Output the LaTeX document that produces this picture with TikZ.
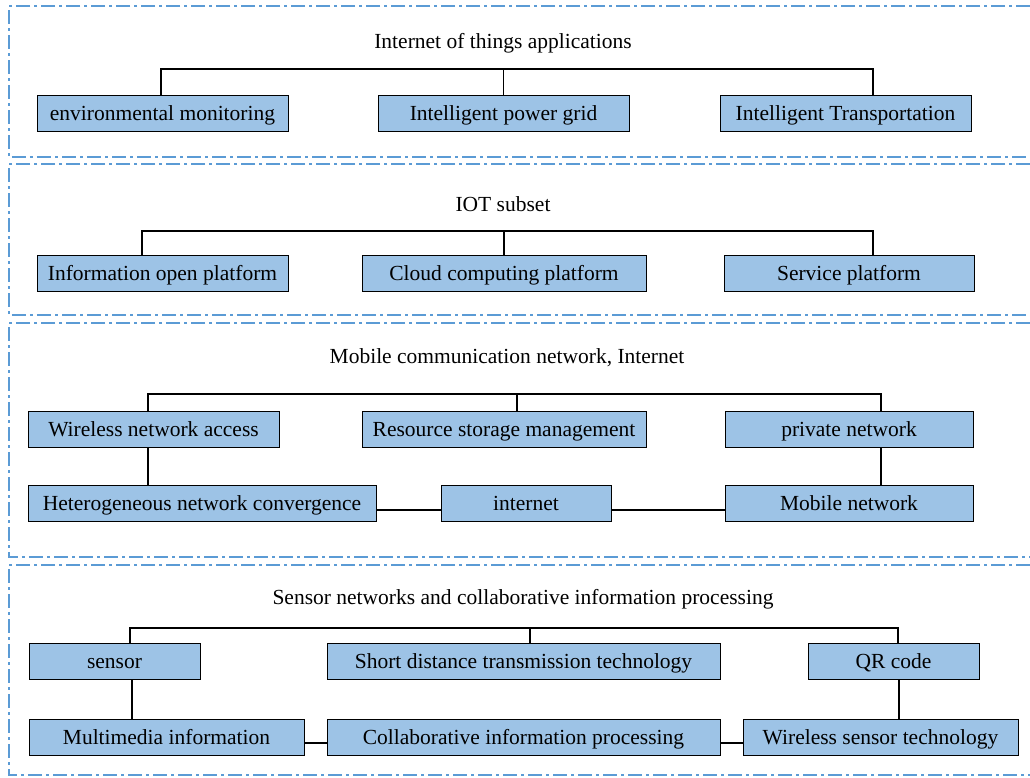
\documentclass[tikz,border=0pt]{standalone}
\usepackage{fontspec}
\setmainfont{Liberation Serif}
\usetikzlibrary{positioning,calc}
\definecolor{boxblue}{HTML}{9DC3E6}
\definecolor{frameblue}{HTML}{5B9BD5}

\begin{document}
\begin{tikzpicture}[x=1pt,y=-1pt,
    box/.style={draw,fill=boxblue,line width=1pt,minimum height=36pt,inner sep=0pt,
      text height=19pt,text depth=5pt,font=\fontsize{21.5}{26}\selectfont},
    ttl/.style={inner sep=0pt,anchor=base,font=\fontsize{21.5}{26}\selectfont},
    layer/.style={draw=frameblue,line width=1.8pt,dash pattern=on 14pt off 4pt on 3pt off 4pt},
    lnk/.style={line width=1.6pt}]
    \useasboundingbox (0,0) rectangle (1030,777);

    % layer frames, open on the right
    \draw[layer] (1030,6) -- (9,6) -- (9,157) -- (1030,157);
    \draw[layer] (1030,164) -- (9,164) -- (9,315) -- (1030,315);
    \draw[layer] (1030,323) -- (9,323) -- (9,557) -- (1030,557);
    \draw[layer] (1030,565) -- (9,565) -- (9,775) -- (1030,775);

    % applications
    \node[ttl] (app) at (503,48) {Internet of things applications};
    \node[box,minimum width=251] (env) at (162.5,113) {environmental monitoring};
    \node[box,minimum width=251,right=89pt of env] (grid) {Intelligent power grid};
    \node[box,minimum width=251,right=90pt of grid] (traffic) {Intelligent Transportation};
    \coordinate (bus1) at (503,69);
    \draw[lnk] ([xshift=-1.5pt]env.north) |- (bus1) -| ([xshift=27.5pt]traffic.north);
    \draw[lnk] (grid.north) -- (grid.north |- bus1);

    % subset
    \node[ttl] (sub) at (503,211) {IOT subset};
    \node[box,minimum width=251] (info) at (162.5,273) {Information open platform};
    \node[box,minimum width=284,right=73pt of info] (cloud) {Cloud computing platform};
    \node[box,minimum width=250,right=77pt of cloud] (service) {Service platform};
    \coordinate (bus2) at (503,231);
    \draw[lnk] ([xshift=-20.5pt]info.north) |- (bus2) -| ([xshift=24pt]service.north);
    \draw[lnk] (cloud.north) -- (cloud.north |- bus2);

    % network
    \node[ttl] (net) at (507,363) {Mobile communication network, Internet};
    \node[box,minimum width=251] (wna) at (153.5,429) {Wireless network access};
    \node[box,minimum width=284,right=82pt of wna] (res) {Resource storage management};
    \node[box,minimum width=248,right=78pt of res] (priv) {private network};
    \node[box,minimum width=348,below=37pt of wna.south west,anchor=north west] (het) {Heterogeneous network convergence};
    \node[box,minimum width=170,right=64pt of het] (inet) {internet};
    \node[box,minimum width=248,below=37pt of priv] (mob) {Mobile network};
    \coordinate (bus3) at (516,394);
    \draw[lnk] ([xshift=-5.5pt]wna.north) |- (bus3) -| ([xshift=32pt]priv.north);
    \draw[lnk] ([xshift=13pt]res.north) -- ([xshift=13pt]res.north |- bus3);
    \draw[lnk] ([xshift=-5.5pt]wna.south) -- ([xshift=-5.5pt]wna.south |- het.north);
    \draw[lnk] ([xshift=32pt]priv.south) -- ([xshift=32pt]priv.south |- mob.north);
    \draw[lnk] ([yshift=-7pt]het.east) -- ([yshift=-7pt]inet.west);
    \draw[lnk] ([yshift=-7pt]inet.east) -- ([yshift=-7pt]mob.west);

    % sensing
    \node[ttl] (sens) at (523,604) {Sensor networks and collaborative information processing};
    \node[box,minimum width=171] (sensor) at (114.5,661) {sensor};
    \node[box,minimum width=393,right=126pt of sensor] (short) {Short distance transmission technology};
    \node[box,minimum width=171,right=87pt of short] (qr) {QR code};
    \node[box,minimum width=275,below=39pt of sensor.south west,anchor=north west] (media) {Multimedia information};
    \node[box,minimum width=393,below=39pt of short] (collab) {Collaborative information processing};
    \node[box,minimum width=275,right=22pt of collab] (wst) {Wireless sensor technology};
    \coordinate (bus4) at (529,628);
    \draw[lnk] ([xshift=15.5pt]sensor.north) |- (bus4) -| ([xshift=4.5pt]qr.north);
    \draw[lnk] ([xshift=6.5pt]short.north) -- ([xshift=6.5pt]short.north |- bus4);
    \draw[lnk] ([xshift=17.5pt]sensor.south) -- ([xshift=17.5pt]sensor.south |- media.north);
    \draw[lnk] ([xshift=5.5pt]qr.south) -- ([xshift=5.5pt]qr.south |- wst.north);
    \draw[lnk] ([yshift=-6pt]media.east) -- ([yshift=-6pt]collab.west);
    \draw[lnk] ([yshift=-6pt]collab.east) -- ([yshift=-6pt]wst.west);
\end{tikzpicture}
\end{document}
